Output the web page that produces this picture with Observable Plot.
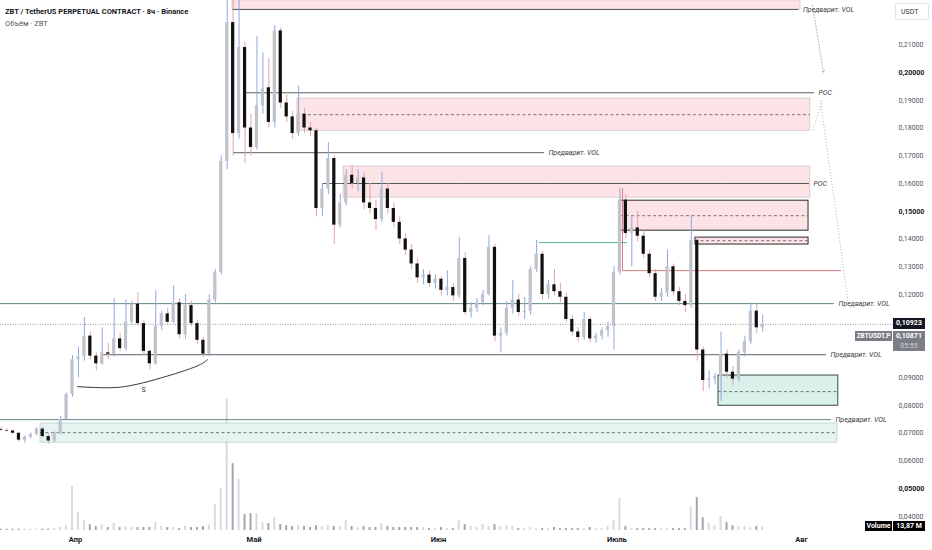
<!DOCTYPE html>
<html><head><meta charset="utf-8">
<script src="https://cdn.jsdelivr.net/npm/d3@7"></script>
<script src="https://cdn.jsdelivr.net/npm/@observablehq/plot@0.6"></script>
<style>
html,body{margin:0;padding:0;background:#fff;}
#wrap{position:relative;width:932px;height:550px;overflow:hidden;font-family:Roboto,"Noto Sans",sans-serif;background:#fff;}
#wrap svg{position:absolute;left:0;top:0;}
.lbl{position:absolute;font-size:7px;line-height:1;white-space:nowrap;box-sizing:border-box;}
</style></head><body><div id="wrap"></div>
<script>
// ---- candle data (daily, day index from 19 Mar) ----
const open  = [.0713,.0710,.0708,.0700,.0675,.0686,.0695,.0715,.0688,.0672,.0700,.0750,.0840,.0965,.0975,.1050,.0978,.0950,.0990,.0985,
.1040,.1005,.1100,.1165,.1095,.0995,.0950,.1085,.1130,.1100,.1170,.1055,.1160,.1095,.1035,.0985,.1180,.1280,.1680,.2180,
.1780,.2090,.1800,.1730,.1880,.1945,.1820,.2150,.1890,.1840,.1780,.1850,.1800,.1790,.1510,.1580,.1690,.1450,.1530,.1630,
.1600,.1620,.1530,.1510,.1470,.1580,.1510,.1460,.1400,.1360,.1310,.1260,.1270,.1240,.1255,.1215,.1225,.1195,.1330,.1135,
.1150,.1170,.1200,.1370,.1050,.1060,.1150,.1180,.1135,.1140,.1290,.1345,.1200,.1235,.1210,.1190,.1110,.1065,.1045,.1110,
.1040,.1050,.1070,.1085,.1280,.1540,.1420,.1440,.1410,.1345,.1275,.1190,.1205,.1300,.1210,.1175,.1160,.1395,.1000,.0890,
.0895,.0905,.0985,.0920,.0895,.0990,.1030,.1140,.1080];
const high  = [.0720,.0716,.0712,.0703,.0690,.0700,.0720,.0722,.0695,.0705,.0760,.0845,.0980,.1010,.1117,.1065,.0990,.1080,.1025,.1185,
.1060,.1180,.1175,.1207,.1105,.1000,.1213,.1140,.1150,.1232,.1185,.1200,.1175,.1105,.1045,.1200,.1290,.1700,.2300,.2280,
.2259,.2110,.1850,.2130,.2070,.2050,.2170,.2160,.1920,.1860,.1950,.1870,.1820,.1800,.1600,.1747,.1700,.1560,.1650,.1665,
.1650,.1640,.1600,.1540,.1640,.1600,.1530,.1480,.1420,.1380,.1330,.1290,.1285,.1270,.1265,.1285,.1240,.1405,.1350,.1170,
.1185,.1215,.1412,.1380,.1080,.1175,.1250,.1200,.1190,.1300,.1395,.1355,.1250,.1290,.1240,.1205,.1125,.1080,.1135,.1120,
.1060,.1080,.1100,.1300,.1582,.1560,.1480,.1500,.1430,.1360,.1290,.1220,.1360,.1310,.1225,.1200,.1485,.1410,.1010,.0925,
.0915,.1065,.1000,.0940,.1000,.1050,.1170,.1170,.1125];
const low   = [.0708,.0704,.0696,.0668,.0664,.0680,.0690,.0680,.0661,.0668,.0695,.0745,.0830,.0900,.0960,.0965,.0925,.0945,.0965,.0975,
.0995,.0995,.1090,.1085,.0980,.0928,.0945,.1070,.1090,.1095,.1040,.1040,.1085,.1020,.0972,.0975,.1170,.1270,.1650,.1700,
.1760,.1672,.1700,.1720,.1850,.1800,.1800,.1870,.1820,.1760,.1770,.1780,.1770,.1480,.1480,.1560,.1380,.1440,.1520,.1580,
.1570,.1505,.1490,.1430,.1460,.1490,.1440,.1380,.1340,.1290,.1240,.1235,.1225,.1220,.1195,.1195,.1175,.1185,.1125,.1115,
.1135,.1160,.1195,.1030,.0990,.1050,.1130,.1120,.1110,.1125,.1280,.1180,.1185,.1195,.1170,.1100,.1050,.1030,.1035,.1025,
.1025,.1035,.1045,.1000,.1270,.1400,.1300,.1390,.1330,.1260,.1175,.1175,.1190,.1195,.1160,.1135,.1150,.0960,.0850,.0860,
.0875,.0815,.0900,.0870,.0885,.0975,.1020,.1060,.1065];
const close = [.0710,.0708,.0700,.0675,.0686,.0695,.0715,.0688,.0672,.0700,.0750,.0840,.0965,.0975,.1050,.0978,.0950,.0990,.0985,.1040,
.1005,.1100,.1165,.1095,.0995,.0950,.1085,.1130,.1100,.1170,.1055,.1160,.1095,.1035,.0985,.1180,.1280,.1680,.2180,.1780,
.2090,.1800,.1730,.1880,.1940,.1820,.2150,.1890,.1840,.1780,.1850,.1800,.1790,.1510,.1580,.1690,.1450,.1530,.1630,.1600,
.1620,.1530,.1510,.1470,.1580,.1510,.1460,.1400,.1360,.1310,.1260,.1270,.1240,.1255,.1215,.1225,.1195,.1330,.1135,.1150,
.1170,.1200,.1370,.1050,.1060,.1150,.1180,.1135,.1140,.1290,.1345,.1200,.1235,.1210,.1190,.1110,.1065,.1045,.1110,.1040,
.1050,.1070,.1085,.1280,.1540,.1420,.1440,.1410,.1345,.1275,.1190,.1205,.1300,.1210,.1175,.1160,.1395,.1000,.0890,.0895,
.0905,.0985,.0920,.0895,.0990,.1030,.1140,.1080,.10923];
// volume, millions
const volume = [5,5,5,5,5,5,5,5,5,7,11,18,164,67,37,22,15,22,11,26,
11,15,11,11,11,11,30,15,11,11,7,15,11,11,15,20,97,157,490,250,
190,60,63,63,30,26,48,22,18,15,18,15,11,18,15,18,15,15,37,15,
11,15,11,11,26,15,11,11,11,11,11,11,7,7,11,7,7,37,22,15,
11,22,15,22,15,18,15,7,7,11,7,7,7,11,7,7,7,7,7,11,
7,7,15,37,120,15,7,7,7,7,7,7,7,7,7,7,86,123,48,26,
18,52,30,18,15,15,11,15,13.87];

// axis ticks
const monthTicks = [13, 43, 74, 104, 135];
const monthNames = ["Апр", "Май", "Июн", "Июль", "Авг"];
const priceTicks = [0.21,0.19,0.18,0.17,0.16,0.14,0.13,0.12,0.09,0.08,0.07,0.06,0.04];
const boldTicks  = [0.20,0.15,0.05];
const lastPrice = 0.10923;
const markPrice = 0.10871;
const lastVolume = 13.87;

// zones (x in days since 19 Mar, prices in USDT)
const pinkZones = [
  {d1:39.39, d2:134.85, lo:0.2227, hi:0.2260},
  {d1:50.3,  d2:136.5,  lo:0.1790, hi:0.1906, mid:0.1848},
  {d1:58.05, d2:136.5,  lo:0.1549, hi:0.1661, mid:0.1600}
];
const pinkBoxes = [
  {d1:104.6, d2:136.2, lo:0.1430, hi:0.1538, mid:0.1484},
  {d1:117.2, d2:136.2, lo:0.1380, hi:0.1405, mid:0.1394}
];
const tealZones = [{d1:7.12, d2:141.07, lo:0.0666, hi:0.0735, mid:0.0702}];
const greenBoxes = [{d1:121.07, d2:141.2, lo:0.0799, hi:0.0908, mid:0.0850}];
const grayLevels = [
  {d1:39.39, d2:134.6, p:0.2227, label:"Предварит. VOL"},
  {d1:41.24, d2:137.2, p:0.1927, label:"POC"},
  {d1:39.56, d2:91.83, p:0.1711, label:"Предварит. VOL"},
  {d1:54.5,  d2:136.36, p:0.1600, label:"POC"},
  {d1:17.5,  d2:139.22, p:0.0983, label:"Предварит. VOL"}
];
const tealLevels = [
  {d1:0.4, d2:140.57, p:0.1167, label:"Предварит. VOL"},
  {d1:0.4, d2:140.06, p:0.0749, label:"Предварит. VOL"}
];
const redLevel = [{d:104.93, p:0.1581}, {d:104.93, p:0.1286}, {d:141.6, p:0.1286}];
const tealShort = [{d1:91.0, d2:105.8, p:0.1387}];
const arcPts = [{d:13.34,p:0.0868},{d:18.9,p:0.0864},{d:24.4,p:0.0882},{d:32.33,p:0.0933},{d:35.19,p:0.0965}];
const arcLabel = [{d:24.43, p:0.0857, t:"S"}];
const arrows = [{d1:136.87, p1:0.2241, d2:138.72, p2:0.2000}];
const dotted = [
  {d1:138.55, p1:0.1899, d2:136.87, p2:0.1790},
  {d1:138.2,  p1:0.1899, d2:142.9,  p2:0.1167}
];

const candles = open.map((o, i) => ({d: i + 0.5, o, h: high[i], l: low[i], c: close[i], v: volume[i], up: close[i] >= o}));
const fmt = v => d3.format(".5f")(v).replace(".", ",");

const W = 932, H = 550;
const common = {width: W, height: H, marginLeft: 0, marginRight: 39, marginTop: 0, marginBottom: 20,
  style: {background: "transparent", fontFamily: "Roboto, 'Noto Sans', sans-serif"}};
const xDom = [0.399, 150.48];

const volChart = Plot.plot({...common,
  x: {domain: xDom, axis: null},
  y: {domain: [0, 560], range: [530, 380], axis: null},
  marks: [
    Plot.rect(candles, {x1: d => d.d - 0.17, x2: d => d.d + 0.17, y1: 0, y2: "v",
      fill: d => d.up ? "#d8dae0" : "#a4a7ae"})
  ]
});

const ft = {fontSize: 7, fontStyle: "italic", fill: "#3d3d3d", textAnchor: "start", dx: 4};
const chart = Plot.plot({...common,
  x: {domain: xDom, axis: null},
  y: {domain: [0.03495, 0.22595], axis: null},
  marks: [
    Plot.rect(pinkZones, {x1: "d1", x2: "d2", y1: "lo", y2: "hi", fill: "#fbdde0", fillOpacity: 0.8, stroke: "#d2c4c6", strokeWidth: 0.8}),
    Plot.rect(pinkBoxes, {x1: "d1", x2: "d2", y1: "lo", y2: "hi", fill: "#fbdde0", fillOpacity: 0.8, stroke: "#2b2b2b", strokeWidth: 1}),
    Plot.rect(tealZones, {x1: "d1", x2: "d2", y1: "lo", y2: "hi", fill: "#e2f3ef", fillOpacity: 0.9, stroke: "#b6d3cc", strokeWidth: 0.8}),
    Plot.rect(greenBoxes, {x1: "d1", x2: "d2", y1: "lo", y2: "hi", fill: "#d6eee8", fillOpacity: 0.9, stroke: "#3a4a47", strokeWidth: 1}),
    Plot.ruleY([...pinkZones.filter(z => z.mid), ...pinkBoxes, ...tealZones, ...greenBoxes],
      {x1: "d1", x2: "d2", y: "mid", stroke: "#555", strokeWidth: 0.8, strokeDasharray: "3,2.5"}),
    Plot.ruleY(grayLevels, {x1: "d1", x2: "d2", y: "p", stroke: "#4a4f52", strokeWidth: 0.9}),
    Plot.ruleY(tealLevels, {x1: "d1", x2: "d2", y: "p", stroke: "#5e8580", strokeWidth: 1}),
    Plot.line(redLevel, {x: "d", y: "p", stroke: "#e07b80", strokeWidth: 1}),
    Plot.ruleY(tealShort, {x1: "d1", x2: "d2", y: "p", stroke: "#4fae9f", strokeWidth: 1}),
    Plot.ruleY([lastPrice], {stroke: "#9a9a9a", strokeWidth: 1, strokeDasharray: "1,1.5"}),
    Plot.link(dotted, {x1: "d1", y1: "p1", x2: "d2", y2: "p2", stroke: "#a0a0a0", strokeWidth: 0.8, strokeDasharray: "1,2"}),
    Plot.arrow(arrows, {x1: "d1", y1: "p1", x2: "d2", y2: "p2", stroke: "#a0a0a0", strokeWidth: 0.8, strokeDasharray: "1,2", headLength: 5}),
    Plot.line(arcPts, {x: "d", y: "p", curve: "natural", stroke: "#3a3a3a", strokeWidth: 1}),
    Plot.text(arcLabel, {x: "d", y: "p", text: "t", fontSize: 7, fill: "#333"}),
    Plot.ruleX(candles, {x: "d", y1: "l", y2: "h", stroke: d => d.up ? "#8ea7e4" : "#e1a3ab", strokeWidth: 1}),
    Plot.rect(candles, {x1: d => d.d - 0.27, x2: d => d.d + 0.27, y1: "o", y2: "c",
      fill: d => d.up ? "#c0c3cb" : "#111111"}),
    Plot.text(grayLevels, {x: "d2", y: "p", text: "label", ...ft}),
    Plot.text(tealLevels, {x: "d2", y: "p", text: "label", ...ft}),
    Plot.text(priceTicks, {y: d => d, frameAnchor: "right", dx: 5, textAnchor: "start", text: fmt, fontSize: 7, fill: "#50535e"}),
    Plot.text(boldTicks, {y: d => d, frameAnchor: "right", dx: 5, textAnchor: "start", text: fmt, fontSize: 7, fill: "#131722", fontWeight: "bold"}),
    Plot.text(monthTicks, {x: d => d, frameAnchor: "bottom", dy: 11, text: (d, i) => monthNames[i], fontSize: 7.5, fontWeight: "bold", fill: "#131722"})
  ]
});

const wrap = document.getElementById("wrap");
wrap.appendChild(volChart);
wrap.appendChild(chart);

function lbl(text, left, top, w, h, bg, color, extra) {
  const e = document.createElement("div");
  e.className = "lbl";
  e.textContent = text;
  Object.assign(e.style, {left: left + "px", top: top + "px", color: color || "#131722"});
  if (w) { e.style.width = w + "px"; e.style.height = h + "px"; e.style.lineHeight = h + "px"; e.style.textAlign = "center"; }
  if (bg) e.style.background = bg;
  if (extra) Object.assign(e.style, extra);
  wrap.appendChild(e);
  return e;
}
lbl("ZBT / TetherUS PERPETUAL CONTRACT · 8ч · Binance", 5, 8, 0, 0, null, "#131722", {fontWeight: "bold", fontSize: "7.5px"});
lbl("Объём · ZBT", 5, 20, 0, 0, null, "#555", {fontSize: "7.5px"});
lbl("USDT", 895, 3, 34, 17, "#fff", "#333", {border: "1px solid #e0e3eb", borderRadius: "2px", textAlign: "left", paddingLeft: "5px"});

const ys = chart.scale("y");
const yp = ys.apply(lastPrice);
lbl(fmt(lastPrice), 893, yp - 5.5, 32, 11, "#131722", "#fff", {fontWeight: "bold"});
lbl("ZBTUSDT.P", 855, yp + 7.5, 37, 10, "#7a7d86", "#fff", {fontWeight: "bold", fontSize: "6.5px"});
const g = lbl("", 893, yp + 7.5, 32, 20, "#7a7d86", "#fff", {lineHeight: "10px"});
g.innerHTML = "<div style='font-weight:bold'>" + fmt(markPrice) + "</div><div style='color:#d0d2d8'>05:55</div>";
const yv = volChart.scale("y").apply(lastVolume);
lbl("Volume", 865, yv - 5, 27, 10, "#000", "#fff", {fontWeight: "bold"});
lbl(d3.format(".2f")(lastVolume).replace(".", ",") + " M", 893, yv - 5, 32, 10, "#000", "#fff", {fontWeight: "bold"});
</script>
</body></html>
